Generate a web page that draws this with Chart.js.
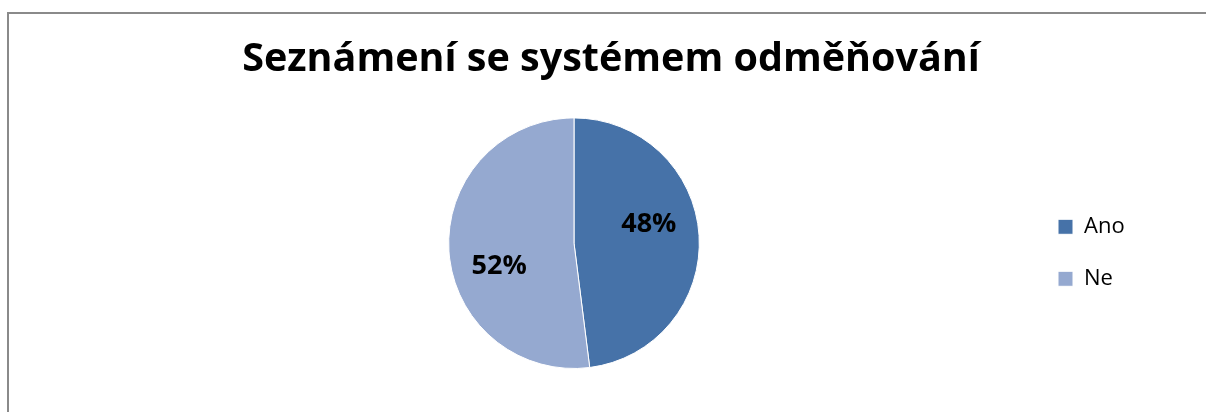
<!DOCTYPE html>
<html>
<head>
<meta charset="utf-8">
<script src="https://cdn.jsdelivr.net/npm/chart.js@4/dist/chart.umd.min.js"></script>
<style>
  html, body { margin: 0; padding: 0; background: #fff; overflow: hidden; }
  #wrap { position: relative; width: 1206px; height: 412px; }
  #frame {
    position: absolute; left: 7px; top: 12px; width: 1300px; height: 500px;
    border-left: 2px solid #8a8a8a; border-top: 2px solid #8a8a8a;
    pointer-events: none;
  }
  canvas { position: absolute; left: 0; top: 0; }
</style>
</head>
<body>
<div id="wrap">
  <canvas id="myChart" width="1206" height="412"></canvas>
  <div id="frame"></div>
</div>
<script>
// data
const categories = ["Ano", "Ne"];
const values = [48, 52];
const sliceColors = ["#4672a8", "#95a9d0"];
const chartTitle = "Seznámení se systémem odměňování";

const FONT = "'Open Sans'";
const legendFontSize = 22;
const legendBox = 15;
const legendPad = 30;

// legend width as Chart.js will compute it, so the pie and title can be placed
const mctx = document.createElement("canvas").getContext("2d");
mctx.font = legendFontSize + "px " + FONT;
let maxText = 0;
categories.forEach(c => { maxText = Math.max(maxText, mctx.measureText(c).width); });
const legendW = legendPad + legendBox + legendFontSize / 2 + maxText + 10;

// pie centre x ~574, title centre x ~611, legend boxes at x ~1058
const legendLeft = 1058 - legendPad;
const padRight = 1206 - legendLeft - legendW;
const padLeft = padRight + 16;
const leftSpacer = 2 * 574 - legendLeft - padLeft;

// percent labels inside the slices
const pctLabels = {
  id: "pctLabels",
  afterDatasetsDraw(chart) {
    const ctx = chart.ctx;
    const meta = chart.getDatasetMeta(0);
    const total = values.reduce((a, b) => a + b, 0);
    ctx.save();
    ctx.font = "bold 27px " + FONT;
    ctx.fillStyle = "#000";
    ctx.textAlign = "center";
    ctx.textBaseline = "middle";
    meta.data.forEach((arc, i) => {
      const p = arc.getProps(["x", "y", "startAngle", "endAngle", "outerRadius"], true);
      const mid = (p.startAngle + p.endAngle) / 2 - 0.21;
      const r = p.outerRadius * 0.62;
      const txt = Math.round(values[i] / total * 100) + "%";
      ctx.fillText(txt, p.x + Math.cos(mid) * r, p.y + Math.sin(mid) * r + 2);
    });
    ctx.restore();
  }
};

new Chart("myChart", {
  type: "pie",
  data: {
    labels: categories,
    datasets: [{
      data: values,
      backgroundColor: sliceColors,
      borderColor: "#ffffff",
      borderWidth: 1,
      hoverOffset: 0
    }]
  },
  options: {
    responsive: false,
    animation: false,
    layout: { padding: { left: padLeft, right: padRight, top: 10, bottom: 43 } },
    plugins: {
      tooltip: { enabled: false },
      title: {
        display: true,
        text: chartTitle,
        color: "#000",
        font: { family: FONT, size: 39.5, weight: "bold" },
        padding: { top: 26, bottom: 34 }
      },
      // empty spacer on the left so the pie sits left of the title centre
      subtitle: {
        display: true,
        position: "left",
        text: " ",
        font: { size: 10 },
        padding: { top: 0, bottom: Math.max(leftSpacer - 12, 0) }
      },
      legend: {
        position: "right",
        fullSize: false,
        title: { display: true, text: "", font: { size: 1 }, padding: { top: 18, bottom: 0 } },
        labels: {
          boxWidth: legendBox,
          boxHeight: legendBox,
          padding: legendPad,
          color: "#000",
          font: { family: FONT, size: legendFontSize }
        }
      }
    }
  },
  plugins: [pctLabels]
});
</script>
</body>
</html>
